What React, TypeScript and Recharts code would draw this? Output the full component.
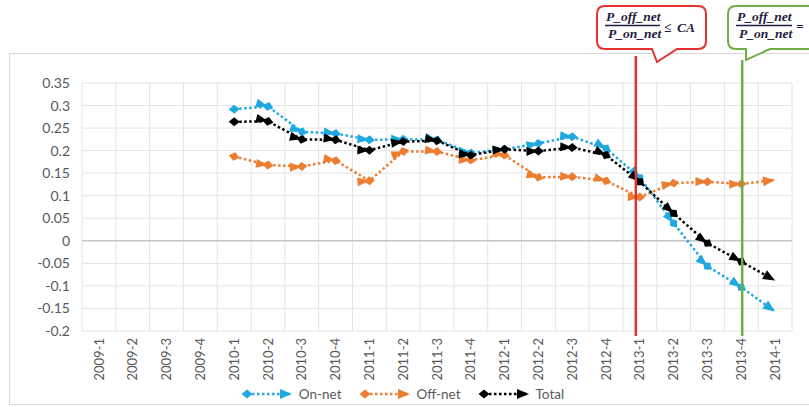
import React from 'react';
import { LineChart, Line, XAxis, YAxis, CartesianGrid, Legend, ReferenceLine } from 'recharts';

const quarters = ['2009-1','2009-2','2009-3','2009-4','2010-1','2010-2','2010-3','2010-4','2011-1','2011-2','2011-3','2011-4','2012-1','2012-2','2012-3','2012-4','2013-1','2013-2','2013-3','2013-4','2014-1'];
const onNet = [null,null,null,null,0.292,0.298,0.242,0.238,0.224,0.225,0.224,0.195,0.203,0.216,0.231,0.205,0.14,0.039,-0.056,-0.103,-0.157];
const offNet = [null,null,null,null,0.187,0.168,0.165,0.178,0.133,0.198,0.198,0.179,0.19,0.141,0.142,0.133,0.097,0.128,0.131,0.126,0.135];
const total = [null,null,null,null,0.264,0.265,0.225,0.224,0.201,0.22,0.222,0.19,0.203,0.199,0.207,0.19,0.131,0.061,-0.005,-0.046,-0.088];
const yTicks = [-0.2,-0.15,-0.1,-0.05,0,0.05,0.1,0.15,0.2,0.25,0.3,0.35];
const seriesNames = ['On-net','Off-net','Total'];
const seriesColors = ['#1fa9e1','#ed7d31','#000000'];
const seriesKeys = ['onNet','offNet','total'];
const redLineAt = '2013-1';
const greenLineAt = '2013-4';

const data = quarters.map((q, i) => ({ q, onNet: onNet[i], offNet: offNet[i], total: total[i] }));

const FONT = 'Lato, "Liberation Sans", sans-serif';
const GRID = '#e4e4e4';

function MarkerDefs() {
  return (
    <svg width={0} height={0} style={{ position: 'absolute' }}>
      <defs>
        {seriesKeys.map((k, i) => (
          <React.Fragment key={k}>
            <marker id={`start-${k}`} markerUnits="userSpaceOnUse" markerWidth={12} markerHeight={12} refX={6} refY={6} orient="auto" style={{ overflow: 'visible' }}>
              <path d="M0.5,6 L6,1.5 L11.5,6 L6,10.5 Z" fill={seriesColors[i]} />
            </marker>
            <marker id={`end-${k}`} markerUnits="userSpaceOnUse" markerWidth={12} markerHeight={12} refX={12} refY={6} orient="auto" style={{ overflow: 'visible' }}>
              <path d="M0,1 L12,6 L0,11 Z" fill={seriesColors[i]} />
            </marker>
            <marker id={`mid-${k}`} markerUnits="userSpaceOnUse" markerWidth={24} markerHeight={12} refX={12} refY={6} orient="auto" style={{ overflow: 'visible' }}>
              <path d="M0,1.5 L12,6 L0,10.5 Z" fill={seriesColors[i]} />
              <path d="M6.5,6 L12,1.5 L17.5,6 L12,10.5 Z" fill={seriesColors[i]} />
            </marker>
          </React.Fragment>
        ))}
      </defs>
    </svg>
  );
}

const XTick = (props: any) => {
  const { x, y, payload } = props;
  return (
    <g transform={`translate(${x},${y}) rotate(-90)`}>
      <text x={0} y={0} dy="0.36em" textAnchor="end" fill="#595959" fontSize={13} fontFamily={FONT}>
        {payload.value}
      </text>
    </g>
  );
};

const fmt = (v: number) => String(Number(v.toFixed(2)));

const LegendContent = () => (
  <div style={{ display: 'flex', justifyContent: 'center', alignItems: 'center', fontFamily: FONT, fontSize: 13.5, color: '#595959', gap: 20, paddingLeft: 16, paddingTop: 5 }}>
    {seriesKeys.map((k, i) => (
      <div key={k} style={{ display: 'flex', alignItems: 'center' }}>
        <svg width={50} height={14} style={{ overflow: 'visible' }}>
          <path d="M3,7 L48,7" stroke={seriesColors[i]} strokeWidth={2.5} strokeDasharray="2.5 2.5" fill="none" markerStart={`url(#start-${k})`} markerEnd={`url(#end-${k})`} />
        </svg>
        <span style={{ marginLeft: 5 }}>{seriesNames[i]}</span>
      </div>
    ))}
  </div>
);

const vLineShape = (color: string, dx: number, top: number, bottom: number) => (p: any) => (
  <line x1={p.x1 + dx} x2={p.x2 + dx} y1={top} y2={bottom} stroke={color} strokeWidth={2.5} />
);

const verticalGen = (props: any) => {
  const { offset } = props;
  const n = quarters.length;
  const res: number[] = [];
  for (let i = 0; i <= n; i++) res.push(offset.left + (i * offset.width) / n);
  return res;
};

const Overlay = () => {
  const textStyle = { fontFamily: '"Liberation Serif", "DejaVu Serif", serif', fontWeight: 700, fontStyle: 'italic', fontSize: 13.5, fill: '#1f2041' } as any;
  return (
    <svg width={809} height={407} style={{ position: 'absolute', left: 0, top: 0, pointerEvents: 'none' }}>
      <path d="M605,6 H698 Q706,6 706,14 V41 Q706,49 698,49 H677 L657,62 L652,49 H605 Q597,49 597,41 V14 Q597,6 605,6 Z" fill="#fff" stroke="#e8312f" strokeWidth={2} />
      <text x={606} y={21} style={textStyle}>P_off_net</text>
      <line x1={605} x2={660} y1={25.5} y2={25.5} stroke="#1f2041" strokeWidth={1.3} />
      <text x={608} y={37.5} style={textStyle}>P_on_net</text>
      <text x={664} y={32} style={textStyle}>≤</text>
      <text x={677} y={32} style={textStyle}>CA</text>
      <path d="M736,6 H900 V49 H770 L746,60 L746,49 H736 Q728,49 728,41 V14 Q728,6 736,6 Z" fill="#fff" stroke="#70ad47" strokeWidth={2} />
      <text x={737} y={21} style={textStyle}>P_off_net</text>
      <line x1={736} x2={792} y1={25.5} y2={25.5} stroke="#1f2041" strokeWidth={1.3} />
      <text x={739} y={37.5} style={textStyle}>P_on_net</text>
      <text x={796} y={31} style={textStyle}>=</text>
    </svg>
  );
};

export default function App() {
  return (
    <div style={{ position: 'absolute', left: 0, top: 0, width: 809, height: 407, background: '#fff', overflow: 'hidden' }}>
      <MarkerDefs />
      <div style={{ position: 'absolute', left: 9, top: 53, width: 900, height: 352, border: '1px solid #d9d9d9', boxSizing: 'border-box' }} />
      <div style={{ position: 'absolute', left: 0, top: 0 }}>
        <LineChart width={809} height={407} data={data} margin={{ top: 83, right: 17, left: 0, bottom: 0 }} style={{ fontFamily: FONT }}>
          <CartesianGrid stroke={GRID} strokeWidth={1} verticalCoordinatesGenerator={verticalGen} />
          <XAxis dataKey="q" interval={0} tickLine={false} axisLine={false} height={50} tick={<XTick />} tickMargin={1} padding={{ left: 17, right: 17 }} />
          <YAxis domain={[-0.2, 0.35]} ticks={yTicks} tickFormatter={fmt} width={82} tickLine={false} axisLine={false} tickMargin={6} tick={{ fill: '#595959', fontSize: 14, fontFamily: FONT }} interval={0} />
          <ReferenceLine y={0} stroke="#c8c8c8" strokeWidth={1.5} />
          <Legend verticalAlign="bottom" height={26} content={<LegendContent />} />
          {seriesKeys.map((k, i) => (
            <Line key={k} type="linear" dataKey={k} name={seriesNames[i]} stroke={seriesColors[i]} strokeWidth={2.5} strokeDasharray="2.5 2.5" dot={false} activeDot={false} isAnimationActive={false} markerStart={`url(#start-${k})`} markerMid={`url(#mid-${k})`} markerEnd={`url(#end-${k})`} />
          ))}
          <ReferenceLine x={redLineAt} ifOverflow="visible" shape={vLineShape('#e8312f', -4, 56, 336)} />
          <ReferenceLine x={greenLineAt} ifOverflow="visible" shape={vLineShape('#70ad47', 1, 60, 336)} />
        </LineChart>
      </div>
      <Overlay />
    </div>
  );
}
